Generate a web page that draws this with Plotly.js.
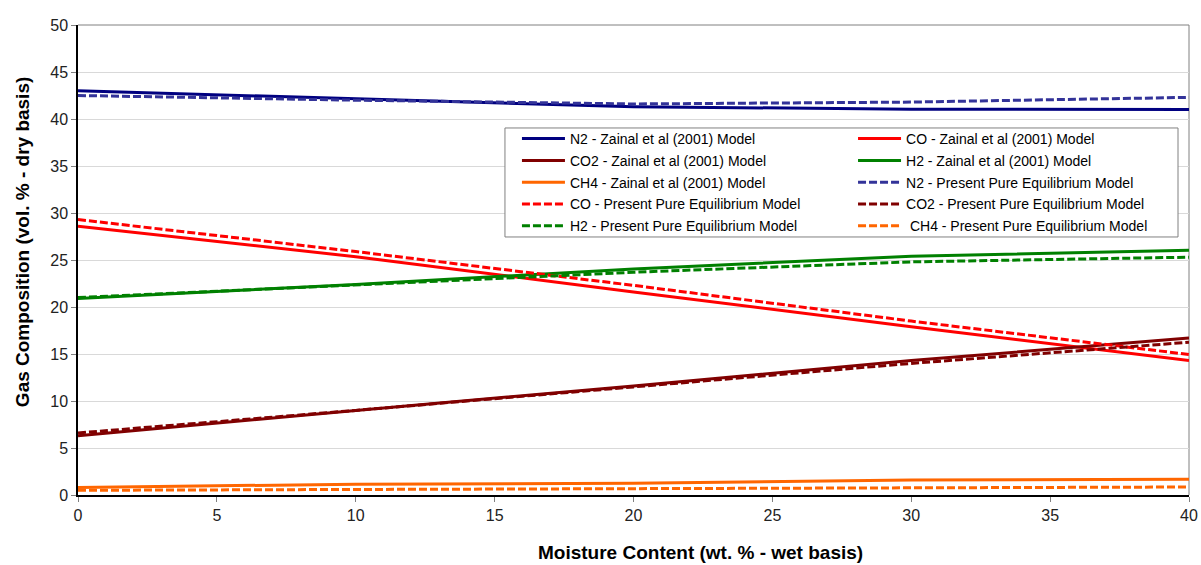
<!DOCTYPE html>
<html>
<head>
<meta charset="utf-8">
<script src="https://cdn.plot.ly/plotly-3.0.1.min.js"></script>
<style>
  html, body { margin: 0; padding: 0; background: #ffffff; }
  #chart { width: 1201px; height: 565px; }
</style>
</head>
<body>
<div id="chart"></div>
<script>
// Moisture content (wt. % - wet basis)
const moisture = [0, 10, 20, 30, 40];

// Zainal et al (2001) Model
const n2Zainal  = [43.0, 42.15, 41.3, 41.05, 41.0];
const coZainal  = [28.6, 25.35, 21.6, 17.9, 14.3];
const co2Zainal = [6.3, 9.0, 11.6, 14.3, 16.7];
const h2Zainal  = [20.9, 22.4, 24.05, 25.4, 26.05];
const ch4Zainal = [0.8, 1.15, 1.25, 1.6, 1.67];

// Present Pure Equilibrium Model
const n2Present  = [42.5, 42.0, 41.6, 41.8, 42.3];
const coPresent  = [29.3, 25.9, 22.3, 18.5, 14.95];
const co2Present = [6.6, 9.0, 11.5, 14.0, 16.25];
const h2Present  = [21.0, 22.35, 23.7, 24.8, 25.3];
const ch4Present = [0.5, 0.6, 0.65, 0.8, 0.85];

const seriesNames = [
  'N2 - Zainal et al (2001) Model',
  'CO - Zainal et al (2001) Model',
  'CO2 - Zainal et al (2001) Model',
  'H2 - Zainal et al (2001) Model',
  'CH4 - Zainal et al (2001) Model',
  'N2 - Present Pure Equilibrium Model',
  'CO - Present Pure Equilibrium Model',
  'CO2 - Present Pure Equilibrium Model',
  'H2 - Present Pure Equilibrium Model',
  '\u00a0CH4 - Present Pure Equilibrium Model'
];
const seriesValues = [n2Zainal, coZainal, co2Zainal, h2Zainal, ch4Zainal,
                      n2Present, coPresent, co2Present, h2Present, ch4Present];
const seriesColors = ['#000080', '#FF0000', '#800000', '#008000', '#FF6600',
                      '#333399', '#FF0000', '#800000', '#008000', '#FF6600'];
const seriesDash = ['solid', 'solid', 'solid', 'solid', 'solid',
                    '8px,3px', '8px,3px', '8px,3px', '8px,3px', '8px,3px'];
const seriesLegend = ['legend', 'legend2', 'legend', 'legend2', 'legend',
                      'legend2', 'legend', 'legend2', 'legend', 'legend2'];

const xTitle = 'Moisture Content (wt. % - wet basis)';
const yTitle = 'Gas Composition (vol. % - dry basis)';

const traces = seriesNames.map((name, i) => ({
  type: 'scatter',
  mode: 'lines',
  x: moisture,
  y: seriesValues[i],
  name: name,
  legend: seriesLegend[i],
  legendgroup: 'g' + i,
  line: { color: seriesColors[i], width: 3, dash: seriesDash[i] },
  hoverinfo: 'x+y+name'
}));

const FONT = 'Liberation Sans, Arial, Helvetica, sans-serif';
const legendCommon = {
  bgcolor: 'rgba(0,0,0,0)',
  borderwidth: 0,
  font: { family: FONT, size: 14, color: '#000000' },
  itemwidth: 43,
  xanchor: 'left',
  yanchor: 'top',
  tracegroupgap: 0.6
};

const layout = {
  width: 1201,
  height: 565,
  margin: { l: 78, r: 12, t: 25, b: 70 },
  paper_bgcolor: '#ffffff',
  plot_bgcolor: '#ffffff',
  font: { family: FONT, size: 16, color: '#222222' },
  showlegend: true,
  legend: Object.assign({}, legendCommon, { x: 0.3951, y: 0.7915 }),
  legend2: Object.assign({}, legendCommon, { x: 0.6976, y: 0.7915 }),
  xaxis: {
    range: [0, 40],
    tick0: 0,
    dtick: 5,
    showgrid: false,
    zeroline: false,
    showline: true,
    linecolor: '#000000',
    linewidth: 2,
    ticks: 'outside',
    ticklen: 5,
    tickcolor: '#808080',
    tickfont: { family: FONT, size: 16, color: '#222222' }
  },
  yaxis: {
    range: [0, 50],
    tick0: 0,
    dtick: 5,
    showgrid: true,
    gridcolor: '#d9d9d9',
    gridwidth: 1,
    zeroline: false,
    showline: true,
    linecolor: '#000000',
    linewidth: 1.5,
    ticks: 'outside',
    ticklen: 5,
    tickcolor: '#808080',
    tickfont: { family: FONT, size: 16, color: '#222222' }
  },
  annotations: [
    { text: xTitle, xref: 'paper', yref: 'paper', x: 0.56, y: -0.1234,
      xanchor: 'center', yanchor: 'middle', showarrow: false,
      font: { family: FONT, size: 19, color: '#000000', weight: 'bold' } },
    { text: yTitle, xref: 'paper', yref: 'paper', x: -0.0504, y: 0.538,
      xanchor: 'center', yanchor: 'middle', showarrow: false, textangle: -90,
      font: { family: FONT, size: 19, color: '#000000', weight: 'bold' } }
  ],
  shapes: [
    { type: 'line', xref: 'paper', yref: 'paper', x0: 0, x1: 1, y0: 1, y1: 1,
      line: { color: '#808080', width: 1 }, layer: 'between' },
    { type: 'line', xref: 'paper', yref: 'paper', x0: 1, x1: 1, y0: 0, y1: 1,
      line: { color: '#808080', width: 1 }, layer: 'between' },
    { type: 'rect', xref: 'paper', yref: 'paper',
      x0: 0.3843, x1: 0.9901, y0: 0.549, y1: 0.7809,
      fillcolor: '#ffffff', line: { color: '#808080', width: 1 }, layer: 'above' }
  ]
};

Plotly.newPlot('chart', traces, layout, { displayModeBar: false });
</script>
</body>
</html>
